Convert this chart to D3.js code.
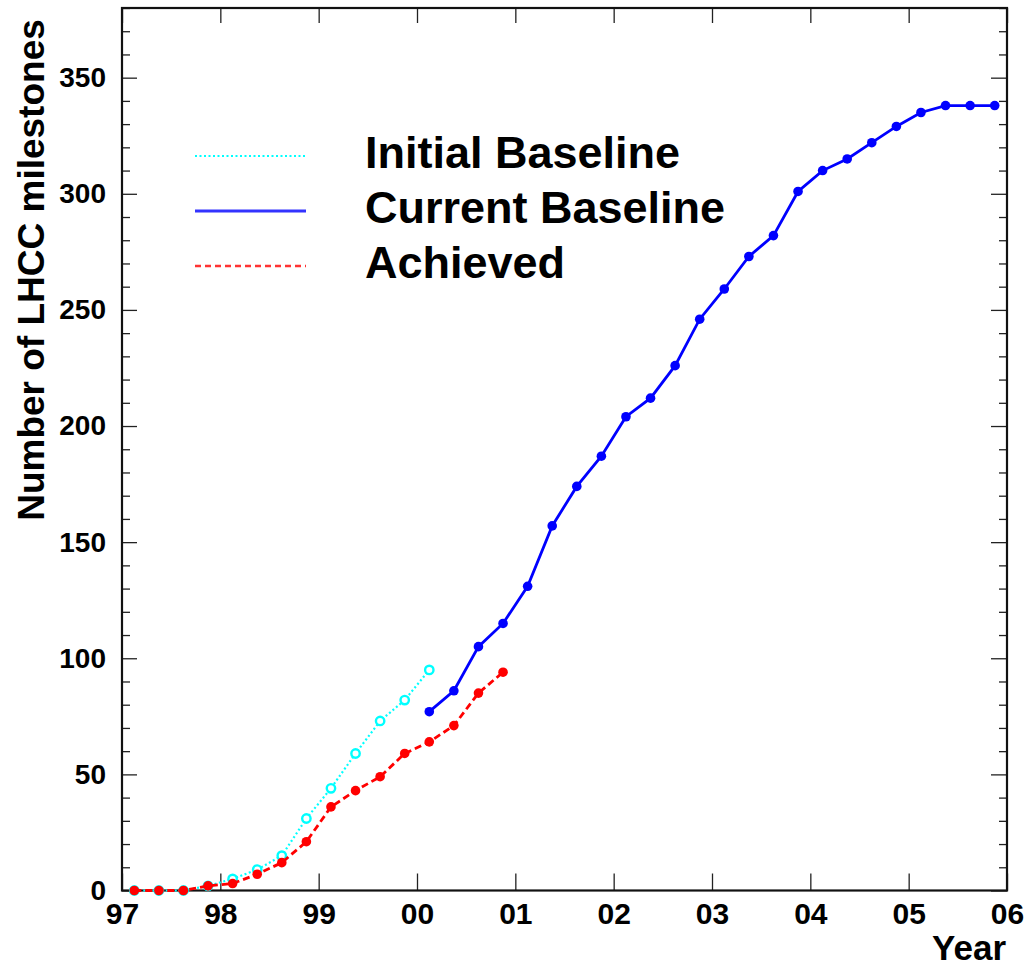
<!DOCTYPE html>
<html>
<head>
<meta charset="utf-8">
<script src="https://cdn.jsdelivr.net/npm/d3@7"></script>
<style>
  html, body { margin: 0; padding: 0; background: #fff; }
  svg { display: block; }
  text { font-family: "Liberation Sans", Arial, Helvetica, sans-serif; font-weight: bold; fill: #000; }
</style>
</head>
<body>
<svg id="chart" width="1029" height="967"></svg>
<script>
// ---------------- data ----------------
const yearTicks = [1997, 1998, 1999, 2000, 2001, 2002, 2003, 2004, 2005, 2006];
const yearLabels = ["97", "98", "99", "00", "01", "02", "03", "04", "05", "06"];
const yMajorTicks = [0, 50, 100, 150, 200, 250, 300, 350];

const initialX = [1997.125, 1997.375, 1997.625, 1997.875, 1998.125, 1998.375, 1998.625,
                  1998.875, 1999.125, 1999.375, 1999.625, 1999.875, 2000.125];
const initialY = [0, 0, 0, 2, 5, 9, 15, 31, 44, 59, 73, 82, 95];

const currentX = [2000.125, 2000.375, 2000.625, 2000.875, 2001.125, 2001.375, 2001.625, 2001.875,
                  2002.125, 2002.375, 2002.625, 2002.875, 2003.125, 2003.375, 2003.625, 2003.875,
                  2004.125, 2004.375, 2004.625, 2004.875, 2005.125, 2005.375, 2005.625, 2005.875];
const currentY = [77, 86, 105, 115, 131, 157, 174, 187, 204, 212, 226, 246,
                  259, 273, 282, 301, 310, 315, 322, 329, 335, 338, 338, 338];

const achievedX = [1997.125, 1997.375, 1997.625, 1997.875, 1998.125, 1998.375, 1998.625, 1998.875,
                   1999.125, 1999.375, 1999.625, 1999.875, 2000.125, 2000.375, 2000.625, 2000.875];
const achievedY = [0, 0, 0, 2, 3, 7, 12, 21, 36, 43, 49, 59, 64, 71, 85, 94];

const seriesNames = ["Initial Baseline", "Current Baseline", "Achieved"];

// ---------------- layout ----------------
const L = 122, R = 1007, T = 8, B = 890.5;
const svg = d3.select("#chart");

const x = d3.scaleLinear().domain([1997, 2006]).range([L, R]);
const y = d3.scaleLinear().domain([0, 380]).range([B, T]);
const yMinor = d3.range(0, 381, 10).filter(v => v % 50 !== 0);

// ---------------- axes ----------------
const tickColor = "#222";
function styleAxis(g) {
  g.select(".domain").remove();
  g.selectAll(".tick line").attr("stroke", tickColor).attr("stroke-width", 1.3);
}

// left major with labels
svg.append("g").attr("transform", `translate(${L},0)`)
  .call(d3.axisLeft(y).tickValues(yMajorTicks).tickSizeInner(-15).tickSizeOuter(0).tickPadding(16).tickFormat(d3.format("d")))
  .call(styleAxis)
  .call(g => g.selectAll(".tick text").attr("font-size", 28).attr("font-family", "Liberation Sans, Arial, sans-serif").attr("font-weight", "bold").attr("fill", "#000"));
// left minor
svg.append("g").attr("transform", `translate(${L},0)`)
  .call(d3.axisLeft(y).tickValues(yMinor).tickSizeInner(-8).tickSizeOuter(0).tickFormat(""))
  .call(styleAxis);
// right major + minor
svg.append("g").attr("transform", `translate(${R},0)`)
  .call(d3.axisRight(y).tickValues(yMajorTicks).tickSizeInner(-16).tickSizeOuter(0).tickFormat(""))
  .call(styleAxis);
svg.append("g").attr("transform", `translate(${R},0)`)
  .call(d3.axisRight(y).tickValues(yMinor).tickSizeInner(-8).tickSizeOuter(0).tickFormat(""))
  .call(styleAxis);
// bottom with labels
svg.append("g").attr("transform", `translate(0,${B})`)
  .call(d3.axisBottom(x).tickValues(yearTicks).tickSizeInner(-17).tickSizeOuter(0).tickPadding(12)
        .tickFormat((d, i) => yearLabels[i]))
  .call(styleAxis)
  .call(g => g.selectAll(".tick text").attr("font-size", 30).attr("font-family", "Liberation Sans, Arial, sans-serif").attr("font-weight", "bold").attr("fill", "#000"));
// top
svg.append("g").attr("transform", `translate(0,${T})`)
  .call(d3.axisTop(x).tickValues(yearTicks).tickSizeInner(-15).tickSizeOuter(0).tickFormat(""))
  .call(styleAxis);

// frame
svg.append("rect").attr("x", L).attr("y", T).attr("width", R - L).attr("height", B - T)
  .attr("fill", "none").attr("stroke", "#111").attr("stroke-width", 2.2);

// ---------------- series ----------------
const line = d3.line().x(d => x(d[0])).y(d => y(d[1]));
const initial = initialX.map((v, i) => [v, initialY[i]]);
const current = currentX.map((v, i) => [v, currentY[i]]);
const achieved = achievedX.map((v, i) => [v, achievedY[i]]);

// initial baseline (cyan dotted, open circles)
svg.append("path").datum(initial).attr("d", line)
  .attr("fill", "none").attr("stroke", "#00ffff").attr("stroke-width", 2.2).attr("stroke-dasharray", "2,2.5");
svg.append("g").selectAll("circle").data(initial).join("circle")
  .attr("cx", d => x(d[0])).attr("cy", d => y(d[1])).attr("r", 4.2)
  .attr("fill", "#fff").attr("stroke", "#00ffff").attr("stroke-width", 2.4);

// current baseline (blue solid, filled)
svg.append("path").datum(current).attr("d", line)
  .attr("fill", "none").attr("stroke", "#0000ff").attr("stroke-width", 2.8);
svg.append("g").selectAll("circle").data(current).join("circle")
  .attr("cx", d => x(d[0])).attr("cy", d => y(d[1])).attr("r", 4.8).attr("fill", "#0000ff");

// achieved (red dashed, filled)
svg.append("path").datum(achieved).attr("d", line)
  .attr("fill", "none").attr("stroke", "#ff0000").attr("stroke-width", 2.8).attr("stroke-dasharray", "7,4");
svg.append("g").selectAll("circle").data(achieved).join("circle")
  .attr("cx", d => x(d[0])).attr("cy", d => y(d[1])).attr("r", 4.8).attr("fill", "#ff0000");

// ---------------- legend ----------------
const legendStyles = [
  { color: "#00ffff", dash: "2,2.5", width: 2.2 },
  { color: "#3333ff", dash: null, width: 3 },
  { color: "#ff3333", dash: "6,4", width: 2.6 }
];
const leg = svg.append("g");
seriesNames.forEach((name, i) => {
  const base = 168 + i * 55;
  leg.append("line").attr("x1", 195).attr("x2", 306).attr("y1", base - 12).attr("y2", base - 12)
    .attr("stroke", legendStyles[i].color).attr("stroke-width", legendStyles[i].width)
    .attr("stroke-dasharray", legendStyles[i].dash);
  leg.append("text").attr("x", 365).attr("y", base).attr("font-size", 45).text(name);
});

// ---------------- titles ----------------
svg.append("text").attr("transform", "translate(44,270) rotate(-90)")
  .attr("text-anchor", "middle").attr("font-size", 37).text("Number of LHCC milestones");
svg.append("text").attr("x", 1006).attr("y", 960).attr("text-anchor", "end")
  .attr("font-size", 35).text("Year");
</script>
</body>
</html>
